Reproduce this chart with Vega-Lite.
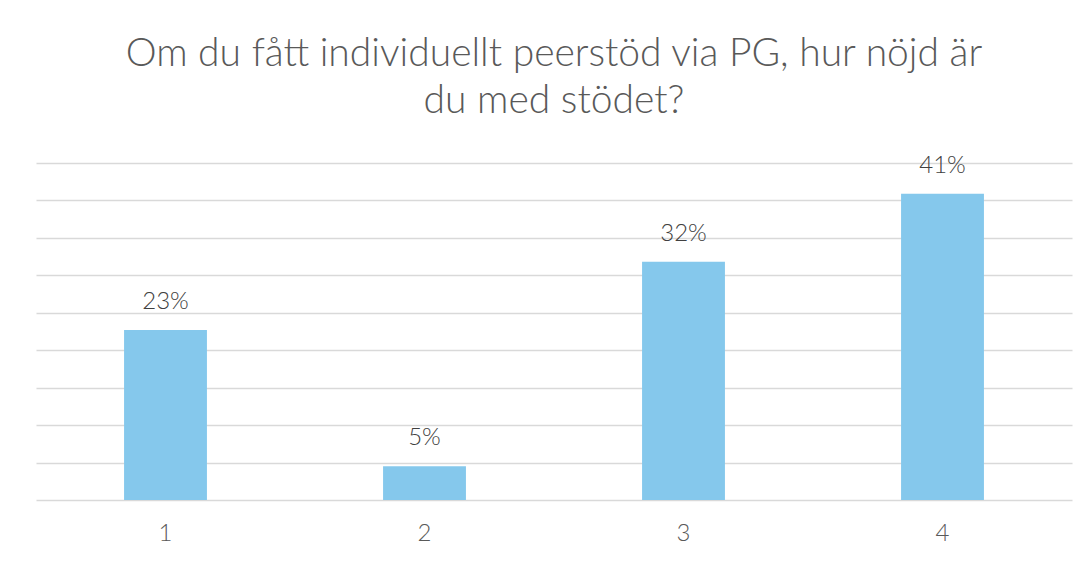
{
  "$schema": "https://vega.github.io/schema/vega-lite/v6.json",
  "autosize": {"type": "none"},
  "padding": {"left": 36, "top": 163, "right": 19, "bottom": 61},
  "width": 1036,
  "height": 337,
  "background": "white",
  "config": {
    "view": {"stroke": null},
    "font": "Lato"
  },
  "title": {
    "text": ["Om du fått individuellt peerstöd via PG, hur nöjd är", "du med stödet?"],
    "font": "Lato",
    "fontSize": 39,
    "fontWeight": 300,
    "color": "#595959",
    "lineHeight": 47,
    "anchor": "middle",
    "frame": "group",
    "offset": 33
  },
  "data": {
    "values": [
      {"rating": "1", "share": 0.227},
      {"rating": "2", "share": 0.045},
      {"rating": "3", "share": 0.318},
      {"rating": "4", "share": 0.409}
    ]
  },
  "encoding": {
    "x": {
      "field": "rating",
      "type": "ordinal",
      "sort": null,
      "scale": {"paddingInner": 0.68, "paddingOuter": 0.34},
      "axis": {
        "title": null,
        "labelAngle": 0,
        "ticks": false,
        "domain": false,
        "labelFontSize": 24,
        "labelFontWeight": 300,
        "labelColor": "#595959",
        "labelFont": "Lato",
        "labelPadding": 21
      }
    },
    "y": {
      "field": "share",
      "type": "quantitative",
      "scale": {"domain": [0, 0.45], "nice": false},
      "axis": {
        "title": null,
        "labels": false,
        "ticks": false,
        "domain": false,
        "values": [0, 0.05, 0.1, 0.15, 0.2, 0.25, 0.3, 0.35, 0.4, 0.45],
        "gridColor": "#d9d9d9",
        "gridWidth": 1.5,
        "gridOpacity": 1
      }
    }
  },
  "layer": [
    {"mark": {"type": "bar", "color": "#85C8EC"}},
    {
      "mark": {"type": "text", "baseline": "alphabetic", "dy": -21, "fontSize": 24, "fontWeight": 300, "color": "#404040", "font": "Lato"},
      "encoding": {
        "text": {"field": "share", "type": "quantitative", "format": ".0%"}
      }
    }
  ]
}
